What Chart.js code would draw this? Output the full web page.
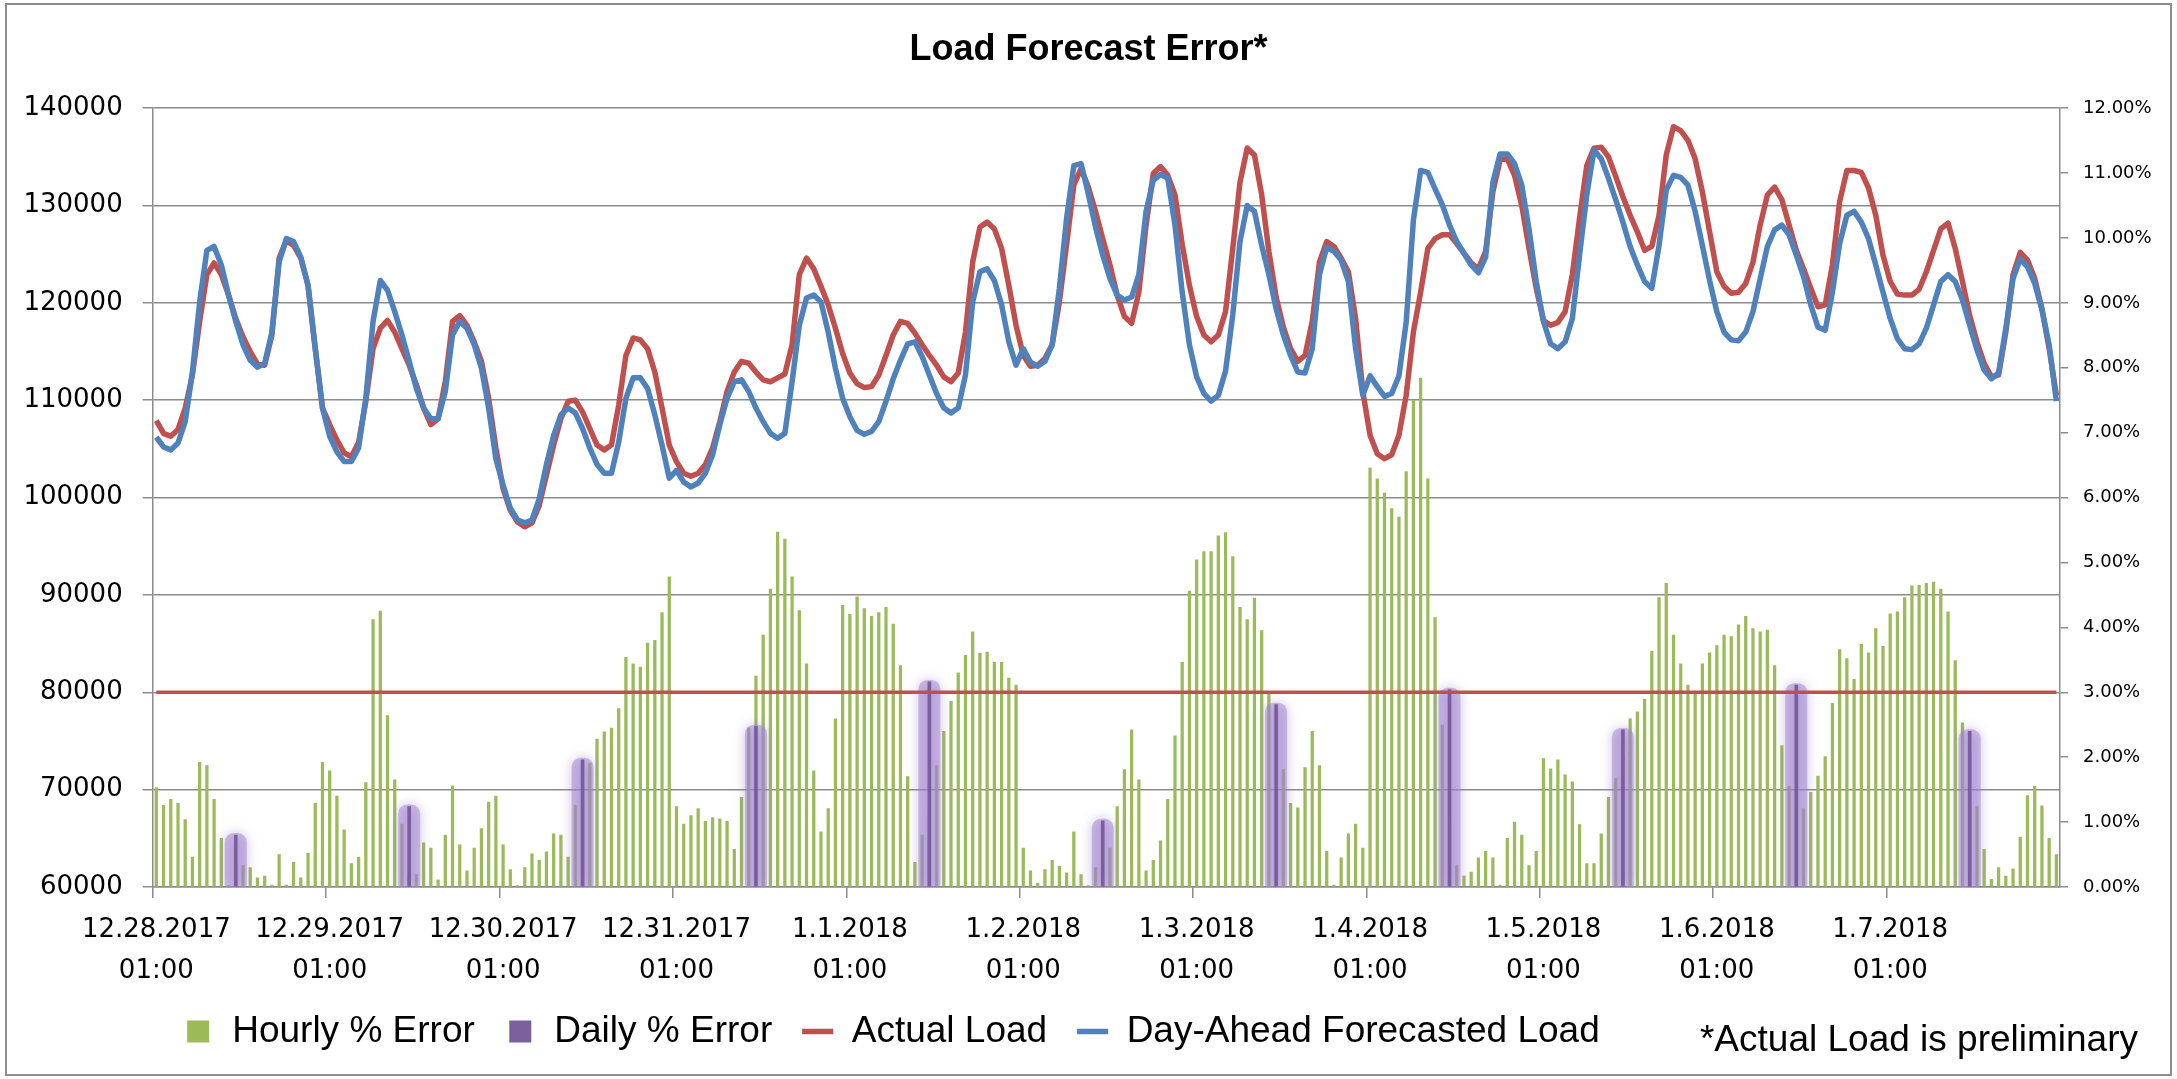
<!DOCTYPE html>
<html>
<head>
<meta charset="utf-8">
<title>Load Forecast Error</title>
<script src="https://cdn.jsdelivr.net/npm/chart.js@4.4.1/dist/chart.umd.min.js"></script>
<style>
  html, body { margin: 0; padding: 0; background: #fff; }
</style>
</head>
<body>
<canvas id="loadChart" width="2177" height="1079"></canvas>
<script>
// one tick per day, at 01:00
var dayLabels = ['12.28.2017', '12.29.2017', '12.30.2017', '12.31.2017', '1.1.2018', '1.2.2018',
    '1.3.2018', '1.4.2018', '1.5.2018', '1.6.2018', '1.7.2018'];

// hourly load (MW), 24 values per day
var actualLoad = [
    107900, 106600, 106300, 107000, 109200, 112600, 118100, 122900, 124100, 122900, 120800, 118400, 116500, 115000, 113700, 113600, 116700, 124600, 126400, 125900, 124600, 121800, 115300, 109200,
    107500, 105900, 104600, 104200, 105700, 109900, 115300, 117400, 118200, 117000, 115300, 113600, 111600, 109200, 107500, 108100, 111900, 118100, 118700, 117700, 116000, 114000, 110200, 105100,
    100900, 98700, 97500, 97000, 97400, 99200, 102300, 105400, 108100, 109900, 110000, 108800, 107100, 105400, 104900, 105400, 109500, 114600, 116400, 116200, 115300, 112900, 109200, 105400,
    103700, 102500, 102200, 102500, 103400, 105100, 107800, 110900, 112900, 114000, 113800, 112900, 112100, 111900, 112300, 112700, 115700, 122900, 124600, 123500, 121700, 119800, 117400, 114800,
    112800, 111700, 111300, 111400, 112600, 114600, 116700, 118100, 117900, 116900, 115700, 114600, 113600, 112400, 111900, 112800, 117000, 124200, 127800, 128300, 127600, 125600, 121800, 117700,
    114600, 113500, 113600, 114300, 115700, 120100, 126000, 132100, 133800, 131900, 129400, 126600, 123900, 120800, 118600, 117900, 121100, 128000, 133300, 134000, 133100, 131100, 126000, 121800,
    118600, 116700, 116000, 116700, 119100, 125600, 132400, 135900, 135200, 131100, 125300, 120600, 117500, 115300, 114000, 114600, 118100, 124200, 126300, 125800, 124600, 123200, 118400, 110900,
    106400, 104500, 104000, 104400, 106400, 110500, 117000, 121100, 125600, 126600, 127000, 127000, 126100, 125100, 124100, 123500, 125300, 131400, 134700, 134800, 133100, 130000, 125600, 121500,
    118200, 117700, 118000, 119100, 122900, 128700, 134100, 135900, 136000, 135000, 133000, 130900, 129000, 127300, 125400, 125800, 129000, 135200, 138100, 137700, 136700, 134800, 131400, 127300,
    123200, 121700, 121000, 121100, 122000, 124200, 128000, 131100, 131900, 130600, 128000, 125400, 123500, 121500, 119600, 119800, 123900, 130400, 133600, 133600, 133400, 131800, 129000, 124900,
    122200, 120900, 120800, 120800, 121400, 123200, 125400, 127600, 128200, 125600, 122200, 118700, 116000, 113800, 112400, 112600, 117000, 122900, 125200, 124400, 122500, 119400, 115300, 110500
];
var forecastLoad = [
    106200, 105200, 104900, 105600, 107800, 112900, 120100, 125400, 125800, 123900, 120800, 118100, 115700, 114100, 113400, 113800, 117000, 124200, 126600, 126300, 124700, 121800, 115300, 109200,
    106300, 104700, 103700, 103700, 105100, 110200, 118100, 122300, 121300, 119100, 116700, 114000, 111200, 109200, 108100, 108100, 110900, 116700, 118100, 117400, 115700, 113300, 109200, 104000,
    101300, 98900, 97700, 97400, 97700, 99900, 103400, 106400, 108500, 109200, 108700, 107100, 105100, 103400, 102500, 102500, 105700, 110200, 112300, 112300, 111200, 108500, 105400, 102000,
    102800, 101600, 101100, 101500, 102500, 104400, 107500, 110200, 111900, 112100, 110900, 109200, 107800, 106600, 106100, 106600, 111900, 117700, 120500, 120800, 120100, 117000, 113300, 110200,
    108300, 106900, 106500, 106800, 107800, 109900, 112200, 114100, 115800, 116000, 114500, 112600, 110700, 109200, 108700, 109200, 112600, 120100, 123200, 123500, 122300, 119800, 116000, 113600,
    115300, 113900, 113500, 114000, 115700, 121500, 128700, 134100, 134300, 131200, 127800, 124900, 122500, 120800, 120300, 120600, 122900, 129400, 132600, 133200, 132800, 128000, 121100, 115700,
    112400, 110700, 109900, 110500, 113000, 118800, 126300, 130000, 129400, 125900, 122900, 119400, 116700, 114600, 112900, 112800, 115300, 122900, 125700, 125300, 124400, 122200, 115300, 110500,
    112500, 111400, 110400, 110700, 112500, 118000, 128500, 133600, 133400, 131700, 130100, 128000, 126300, 125100, 123900, 123100, 124700, 132400, 135300, 135300, 134300, 132100, 127600, 122200,
    118100, 115800, 115300, 116000, 118400, 124900, 131100, 135700, 134800, 132800, 130600, 128300, 125800, 123900, 122200, 121500, 125900, 131600, 133100, 132900, 132100, 129400, 125900, 122300,
    119100, 117000, 116200, 116100, 117000, 119100, 122500, 125800, 127500, 128000, 127000, 124900, 122700, 119800, 117500, 117200, 121100, 126100, 129000, 129400, 128300, 126600, 123900, 121100,
    118400, 116300, 115300, 115200, 115800, 117400, 119800, 122200, 122900, 122200, 120300, 117700, 115200, 113100, 112200, 112800, 117400, 122500, 124500, 123700, 122000, 119300, 115700, 109900
];

// hourly % error
var hourlyError = [
    1.53, 1.26, 1.35, 1.29, 1.04, 0.46, 1.92, 1.87, 1.35, 0.75, 0.02, 0.33, 0.33, 0.30, 0.14, 0.17, 0.03, 0.50, 0.03, 0.38, 0.14, 0.52, 1.29, 1.92,
    1.79, 1.40, 0.88, 0.36, 0.46, 1.61, 4.12, 4.25, 2.64, 1.65, 0.97, 0.14, 0.19, 0.68, 0.60, 0.11, 0.80, 1.56, 0.65, 0.25, 0.60, 0.90, 1.31, 1.40,
    0.65, 0.27, 0.02, 0.30, 0.51, 0.41, 0.54, 0.82, 0.80, 0.46, 1.26, 1.44, 1.91, 2.28, 2.39, 2.45, 2.75, 3.54, 3.44, 3.39, 3.76, 3.80, 4.23, 4.78,
    1.24, 0.97, 1.10, 1.21, 1.01, 1.07, 1.05, 1.01, 0.58, 1.38, 2.45, 3.25, 3.88, 4.59, 5.47, 5.36, 4.78, 4.26, 3.44, 1.79, 0.85, 1.21, 2.59, 4.34,
    4.20, 4.47, 4.29, 4.17, 4.23, 4.31, 4.05, 3.41, 1.70, 0.38, 0.80, 1.21, 1.87, 2.40, 2.86, 3.30, 3.57, 3.93, 3.60, 3.62, 3.46, 3.46, 3.22, 3.11,
    0.60, 0.25, 0.06, 0.27, 0.41, 0.32, 0.22, 0.85, 0.19, 0.02, 0.30, 0.10, 0.60, 1.24, 1.81, 2.42, 1.65, 0.25, 0.41, 0.71, 1.35, 2.33, 3.46, 4.56,
    5.04, 5.17, 5.17, 5.41, 5.46, 5.09, 4.31, 4.12, 4.45, 3.95, 2.97, 2.72, 1.81, 1.29, 1.22, 1.84, 2.40, 1.87, 0.55, 0.03, 0.45, 0.82, 0.97, 0.60,
    6.46, 6.29, 6.07, 5.83, 5.70, 6.40, 7.50, 7.84, 6.29, 4.15, 2.50, 1.04, 0.33, 0.17, 0.23, 0.45, 0.55, 0.45, 0.03, 0.75, 1.00, 0.80, 0.33, 0.55,
    1.98, 1.82, 1.96, 1.73, 1.62, 0.96, 0.36, 0.36, 0.82, 1.38, 1.67, 2.03, 2.59, 2.70, 2.89, 3.63, 4.46, 4.68, 3.88, 3.44, 3.11, 2.99, 3.44, 3.61,
    3.72, 3.88, 3.86, 4.04, 4.17, 3.98, 3.93, 3.96, 3.41, 2.18, 1.55, 1.19, 1.21, 1.46, 1.71, 2.01, 2.83, 3.66, 3.52, 3.20, 3.74, 3.61, 3.98, 3.71,
    4.21, 4.24, 4.46, 4.64, 4.65, 4.68, 4.70, 4.59, 4.24, 3.49, 2.53, 2.09, 1.24, 0.58, 0.12, 0.30, 0.17, 0.28, 0.77, 1.41, 1.55, 1.25, 0.75, 0.50
];
// daily % error, shown at 12:00 of each day
var dailyError = [0.80, 1.24, 1.96, 2.47, 3.16, 1.02, 2.81, 3.04, 2.42, 3.11, 2.40];
var thresholdPct = 3.0;

var hours = [];
dayLabels.forEach(function (d) {
    for (var h = 1; h <= 24; h++) hours.push(d + ' ' + String(h).padStart(2, '0') + ':00');
});
var dailyData = hours.map(function (h, i) {
    return i % 24 === 11 ? dailyError[(i - 11) / 24] : null;
});

var gridGray = '#8c8c8c';
var textFont = '"Liberation Sans", Arial, sans-serif';
Chart.defaults.font.family = textFont;
Chart.defaults.color = '#000';

var chartFrame = {
    id: 'chartFrame',
    beforeDraw: function (chart) {
        var c = chart.ctx;
        c.save();
        c.fillStyle = '#fff';
        c.fillRect(0, 0, chart.width, chart.height);
        c.strokeStyle = '#8e8e8e';
        c.lineWidth = 2;
        c.strokeRect(6, 4, chart.width - 12, chart.height - 8);
        c.restore();
    },
    afterDraw: function (chart) {
        var c = chart.ctx;
        c.save();
        c.font = '37px ' + textFont;
        c.fillStyle = '#000';
        c.textAlign = 'right';
        c.textBaseline = 'middle';
        c.fillText('*Actual Load is preliminary', chart.width - 39, 1041);
        c.restore();
    }
};

// soft halo behind the daily bars
var glow = {
    id: 'glow',
    beforeDatasetDraw: function (chart, args) {
        if (chart.data.datasets[args.index].glow) {
            chart.ctx.save();
            chart.ctx.shadowColor = 'rgba(150,120,200,0.9)';
            chart.ctx.shadowBlur = 12;
        }
    },
    afterDatasetDraw: function (chart, args) {
        if (chart.data.datasets[args.index].glow) chart.ctx.restore();
    }
};

new Chart(document.getElementById('loadChart'), {
    type: 'bar',
    data: {
        labels: hours,
        datasets: [
            {
                label: 'Hourly % Error', data: hourlyError, yAxisID: 'y1', order: 6,
                backgroundColor: '#9BBB59', barThickness: 2.6, grouped: false, pointStyle: 'rect'
            },
            {
                label: 'Daily % Error', data: dailyData, yAxisID: 'y1', order: 4,
                backgroundColor: '#7b5e9c', barThickness: 3, grouped: false, pointStyle: 'rect'
            },
            {
                type: 'line', label: 'Actual Load', data: actualLoad, yAxisID: 'y', order: 2,
                borderColor: '#C0504D', backgroundColor: '#C0504D', borderWidth: 5.5,
                pointRadius: 0, tension: 0, borderJoinStyle: 'round', pointStyle: 'line'
            },
            {
                type: 'line', label: 'Day-Ahead Forecasted Load', data: forecastLoad, yAxisID: 'y', order: 1,
                borderColor: '#4F81BD', backgroundColor: '#4F81BD', borderWidth: 5.5,
                pointRadius: 0, tension: 0, borderJoinStyle: 'round', pointStyle: 'line'
            },
            {
                label: '', data: dailyData, yAxisID: 'y1', order: 5, glow: true,
                backgroundColor: 'rgba(160,132,208,0.5)', barThickness: 18, inflateAmount: 2,
                borderRadius: 9, grouped: false
            },
            {
                type: 'line', label: '', yAxisID: 'y1', order: 3,
                data: [{ x: hours[0], y: thresholdPct }, { x: hours[hours.length - 1], y: thresholdPct }],
                borderColor: '#C0504D', borderWidth: 3.5, pointRadius: 0
            }
        ]
    },
    options: {
        responsive: false,
        animation: false,
        events: [],
        devicePixelRatio: 1,
        layout: { padding: { left: 0, right: 0, top: 0, bottom: 19 } },
        scales: {
            x: {
                offset: true,
                grid: {
                    drawOnChartArea: false, offset: true, tickLength: 11, lineWidth: 1.5,
                    color: function (ctx) { return ctx.index % 24 === 0 ? gridGray : 'rgba(0,0,0,0)'; }
                },
                border: { color: gridGray, width: 1.5 },
                ticks: {
                    autoSkip: false, maxRotation: 0, minRotation: 0, padding: 11, color: '#000',
                    font: { family: 'DejaVu Sans', size: 26, lineHeight: 1.6 },
                    callback: function (v, i) { return i % 24 === 0 ? [dayLabels[i / 24], '01:00'] : ''; }
                },
                afterFit: function (s) { s.height = 96; }
            },
            y: {
                position: 'left', min: 60000, max: 140000,
                grid: { color: gridGray, lineWidth: 1.5, tickLength: 10 },
                border: { color: gridGray, width: 1.5 },
                ticks: {
                    stepSize: 10000, padding: 20, color: '#000',
                    font: { family: 'DejaVu Sans', size: 26 },
                    callback: function (v) { return String(v); }
                },
                afterFit: function (s) { s.width = 152.7; }
            },
            y1: {
                position: 'right', min: 0, max: 12,
                grid: { drawOnChartArea: false, color: gridGray, lineWidth: 1.5, tickLength: 8 },
                border: { color: gridGray, width: 1.5 },
                ticks: {
                    stepSize: 1, padding: 15, color: '#000',
                    font: { family: 'DejaVu Sans', size: 18 },
                    callback: function (v) { return v.toFixed(2) + '%'; }
                },
                afterFit: function (s) { s.width = 117; }
            }
        },
        plugins: {
            title: {
                display: true, text: 'Load Forecast Error*', color: '#000',
                font: { family: textFont, size: 36, weight: 'bold' },
                padding: { top: 28, bottom: 37 }
            },
            legend: {
                position: 'bottom', align: 'start', fullSize: false,
                labels: {
                    usePointStyle: true, boxWidth: 31, boxHeight: 22, padding: 30, color: '#000',
                    font: { family: textFont, size: 37 },
                    filter: function (item) { return item.text !== ''; },
                    sort: function (a, b) { return a.datasetIndex - b.datasetIndex; }
                }
            },
            tooltip: { enabled: false }
        }
    },
    plugins: [chartFrame, glow]
});
</script>
</body>
</html>
